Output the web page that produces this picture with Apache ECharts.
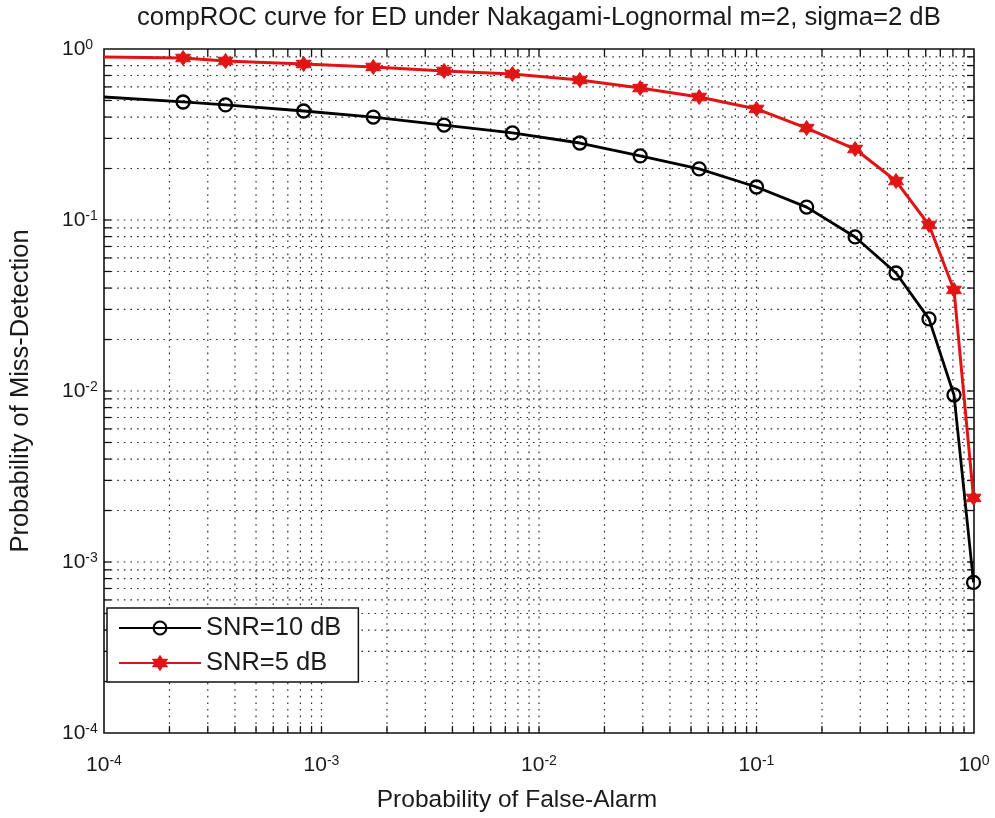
<!DOCTYPE html>
<html>
<head>
<meta charset="utf-8">
<script src="https://cdn.jsdelivr.net/npm/echarts@6/dist/echarts.min.js"></script>
<style>
  html, body { margin: 0; padding: 0; background: #fff; }
  #chart { width: 995px; height: 818px; }
</style>
</head>
<body>
<div id="chart"></div>
<script>
// Probability of false alarm at each threshold (first point sits on the left axis edge)
var pf = [1e-4, 2.31e-4, 3.62e-4, 8.28e-4, 1.73e-3, 3.66e-3, 7.55e-3, 0.0154, 0.0292,
          0.0545, 0.100, 0.170, 0.284, 0.438, 0.621, 0.809, 0.995];
// Probability of miss-detection, SNR = 10 dB
var pmd10 = [0.524, 0.490, 0.471, 0.434, 0.400, 0.359, 0.323, 0.282, 0.237,
             0.199, 0.156, 0.119, 0.0796, 0.049, 0.0264, 0.00948, 7.6e-4];
// Probability of miss-detection, SNR = 5 dB
var pmd5 = [0.898, 0.886, 0.851, 0.817, 0.785, 0.744, 0.714, 0.659, 0.591,
            0.524, 0.446, 0.345, 0.260, 0.169, 0.0935, 0.039, 0.00237];

var seriesNames = ['SNR=10 dB', 'SNR=5 dB'];
var titleText = 'compROC curve for ED under Nakagami-Lognormal m=2, sigma=2 dB';
var xName = 'Probability of False-Alarm';
var yName = 'Probability of Miss-Detection';
var decadeMin = -4, decadeMax = 0;

var FONT = '"Liberation Sans", Arial, Helvetica, sans-serif';
var TXT = '#1a1a1a';
var RED = '#e01414';
var HEXAGRAM = 'path://M0,-10 L2.9,-5 L8.66,-5 L5.8,0 L8.66,5 L2.9,5 L0,10 L-2.9,5 L-8.66,5 L-5.8,0 L-8.66,-5 L-2.9,-5 Z';

function pairs(xs, ys) {
  return xs.map(function (x, i) {
    var item = { value: [x, ys[i]] };
    if (i === 0) item.symbol = 'none';   // line enters from the axis edge without a marker
    return item;
  });
}

// decade labels drawn as 10 with a superscript exponent
function powLabel(v) {
  var e = Math.round(Math.log10(v));
  return '{b|10}{e|' + e + '}';
}
var labelRich = {
  b: { fontFamily: FONT, fontSize: 21, color: TXT, verticalAlign: 'bottom', lineHeight: 22 },
  e: { fontFamily: FONT, fontSize: 14, color: TXT, verticalAlign: 'top', padding: [0, 0, 12, 0], lineHeight: 22 }
};

// grid/tick positions: 1..9 x 10^k inside the axis range
var gridVals = [];
for (var k = decadeMin; k < decadeMax; k++) {
  for (var m = 1; m <= 9; m++) {
    if (k === decadeMin && m === 1) continue;
    gridVals.push(m * Math.pow(10, k));
  }
}

function renderFrame(params, api) {
  var cs = params.coordSys;
  var x0 = cs.x, x1 = cs.x + cs.width, y0 = cs.y, y1 = cs.y + cs.height;
  var dotted = { stroke: '#2a2a2a', lineWidth: 1.2, lineDash: [1.6, 5] };
  var tick = { stroke: '#111', lineWidth: 1.3 };
  var T = 7;
  var children = [];
  gridVals.forEach(function (v) {
    var px = api.coord([v, 1])[0];
    var py = api.coord([1, v])[1];
    children.push({ type: 'line', shape: { x1: px, y1: y0, x2: px, y2: y1 }, style: dotted });
    children.push({ type: 'line', shape: { x1: x0, y1: py, x2: x1, y2: py }, style: dotted });
    children.push({ type: 'line', shape: { x1: px, y1: y1, x2: px, y2: y1 - T }, style: tick });
    children.push({ type: 'line', shape: { x1: px, y1: y0, x2: px, y2: y0 + T }, style: tick });
    children.push({ type: 'line', shape: { x1: x0, y1: py, x2: x0 + T, y2: py }, style: tick });
    children.push({ type: 'line', shape: { x1: x1, y1: py, x2: x1 - T, y2: py }, style: tick });
  });
  children.push({ type: 'rect', shape: { x: x0, y: y0, width: x1 - x0, height: y1 - y0 },
                  style: { fill: null, stroke: '#111', lineWidth: 1.6 } });
  return { type: 'group', children: children };
}

var chart = echarts.init(document.getElementById('chart'), null, { renderer: 'canvas' });
chart.setOption({
  backgroundColor: '#ffffff',
  animation: false,
  title: {
    text: titleText,
    left: 132,
    top: 0,
    textStyle: { fontFamily: FONT, fontSize: 25.7, fontWeight: 'normal', color: TXT }
  },
  grid: { left: 104, right: 21, top: 49, bottom: 85, containLabel: false },
  xAxis: {
    type: 'log', logBase: 10, min: 1e-4, max: 1, interval: 1,
    name: xName, nameLocation: 'middle', nameGap: 55,
    nameTextStyle: { fontFamily: FONT, fontSize: 24.5, color: TXT, padding: [0, 44, 0, 0] },
    axisLine: { show: false }, axisTick: { show: false }, splitLine: { show: false },
    axisLabel: { margin: 21, formatter: powLabel, rich: labelRich }
  },
  yAxis: {
    type: 'log', logBase: 10, min: 1e-4, max: 1, interval: 1,
    name: yName, nameLocation: 'middle', nameGap: 70, nameRotate: 90,
    nameTextStyle: { fontFamily: FONT, fontSize: 25.5, color: TXT },
    axisLine: { show: false }, axisTick: { show: false }, splitLine: { show: false },
    axisLabel: { margin: 42, align: 'left', formatter: powLabel, rich: labelRich }
  },
  legend: {
    data: seriesNames,
    orient: 'vertical',
    left: 107, top: 608,
    padding: [7, 17, 6, 11],
    itemWidth: 82, itemHeight: 16, itemGap: 9,
    backgroundColor: '#fff', borderColor: '#111', borderWidth: 1.5, borderRadius: 0,
    textStyle: { fontFamily: FONT, fontSize: 25.5, color: TXT }
  },
  series: [
    {
      type: 'custom',
      silent: true,
      z: 1,
      clip: false,
      renderItem: renderFrame,
      data: [[1e-4, 1e-4]]
    },
    {
      name: seriesNames[0],
      type: 'line',
      z: 3,
      data: pairs(pf, pmd10),
      symbol: 'circle', symbolSize: 13,
      lineStyle: { color: '#000', width: 2.8 },
      itemStyle: { color: 'rgba(0,0,0,0)', borderColor: '#000', borderWidth: 2.3 }
    },
    {
      name: seriesNames[1],
      type: 'line',
      z: 4,
      data: pairs(pf, pmd5),
      symbol: HEXAGRAM, symbolSize: 15,
      lineStyle: { color: RED, width: 3 },
      itemStyle: { color: RED, borderColor: RED, borderWidth: 1 }
    }
  ]
});
</script>
</body>
</html>
